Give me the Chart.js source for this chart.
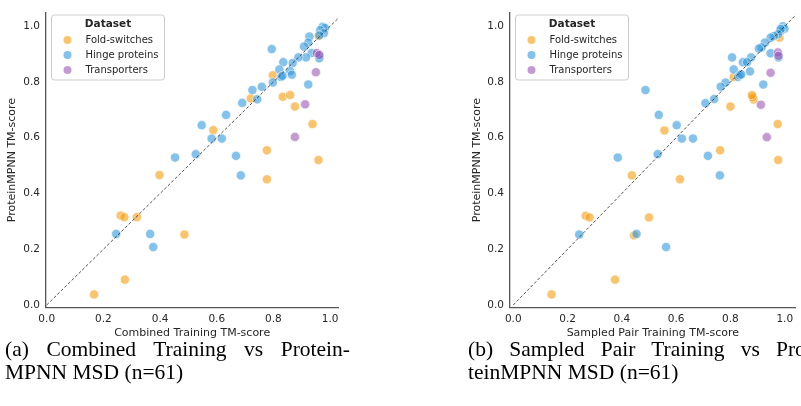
<!DOCTYPE html>
<html>
<head>
<meta charset="utf-8">
<script src="https://cdn.jsdelivr.net/npm/chart.js@4.4.1/dist/chart.umd.min.js"></script>
<style>
  html, body { margin: 0; padding: 0; background: #fff; overflow: hidden; }
  body { width: 801px; height: 406px; position: relative; }
  canvas { position: absolute; top: 0; }
  #chartA { left: 0; }
  #chartB { left: 465px; }
  .cap { position: absolute; width: 345px; font-family: "Liberation Serif", "Times New Roman", serif;
         font-size: 21.5px; line-height: 23px; color: #000; white-space: nowrap; }
  .cap .l1 { text-align: justify; text-align-last: justify; white-space: normal; }
</style>
</head>
<body>
<canvas id="chartA" width="400" height="340"></canvas>
<canvas id="chartB" width="336" height="340"></canvas>
<div class="cap" style="left:5px; top:338px;"><div class="l1">(a) Combined Training vs Protein-</div><div>MPNN MSD (n=61)</div></div>
<div class="cap" style="left:468px; top:338px;"><div class="l1">(b) Sampled Pair Training vs Pro-</div><div>teinMPNN MSD (n=61)</div></div>
<script>
const tickValues = [0, 0.2, 0.4, 0.6, 0.8, 1.0];
const diagonal = [0, 1.1];

// (a) Combined Training vs ProteinMPNN MSD  — [x, y]
const foldA = [[0.959,0.965],[0.798,0.824],[0.72,0.741],[0.833,0.747],[0.859,0.753],[0.876,0.712],
  [0.938,0.649],[0.588,0.627],[0.777,0.555],[0.959,0.52],[0.398,0.466],[0.777,0.451],[0.261,0.321],
  [0.274,0.315],[0.318,0.315],[0.486,0.253],[0.276,0.091],[0.167,0.038]];
const hingeA = [[0.974,0.998],[0.982,0.994],[0.965,0.986],[0.978,0.975],[0.962,0.967],[0.927,0.963],
  [0.923,0.941],[0.908,0.927],[0.794,0.918],[0.935,0.904],[0.915,0.888],[0.888,0.888],[0.962,0.894],
  [0.962,0.885],[0.868,0.868],[0.835,0.871],[0.821,0.845],[0.859,0.839],[0.865,0.826],[0.827,0.818],
  [0.832,0.822],[0.798,0.798],[0.923,0.791],[0.759,0.783],[0.726,0.771],[0.743,0.738],[0.69,0.725],
  [0.633,0.682],[0.547,0.645],[0.582,0.597],[0.618,0.597],[0.526,0.541],[0.453,0.529],[0.668,0.535],
  [0.685,0.465],[0.245,0.255],[0.365,0.255],[0.376,0.208]];
const transA = [[0.953,0.904],[0.962,0.897],[0.95,0.835],[0.912,0.72],[0.876,0.603]];

// (b) Sampled Pair Training vs ProteinMPNN MSD — [x, y]
const foldB = [[0.981,0.959],[0.812,0.818],[0.885,0.737],[0.882,0.745],[0.879,0.753],[0.80,0.712],
  [0.974,0.649],[0.557,0.626],[0.762,0.555],[0.976,0.52],[0.437,0.465],[0.614,0.451],[0.267,0.32],
  [0.281,0.314],[0.5,0.314],[0.445,0.25],[0.375,0.091],[0.141,0.038]];
const hingeB = [[0.993,1.0],[0.999,0.991],[0.984,0.982],[0.985,0.99],[0.975,0.971],[0.96,0.965],
  [0.948,0.959],[0.927,0.941],[0.915,0.924],[0.905,0.92],[0.806,0.888],[0.948,0.903],[0.977,0.888],
  [0.876,0.888],[0.846,0.871],[0.861,0.871],[0.812,0.845],[0.872,0.838],[0.828,0.818],[0.834,0.824],
  [0.84,0.827],[0.921,0.791],[0.782,0.798],[0.764,0.783],[0.74,0.739],[0.708,0.724],[0.487,0.771],
  [0.536,0.682],[0.602,0.645],[0.621,0.597],[0.662,0.597],[0.532,0.541],[0.385,0.529],[0.717,0.535],
  [0.761,0.465],[0.243,0.253],[0.454,0.255],[0.563,0.208]];
const transB = [[0.975,0.906],[0.977,0.894],[0.948,0.833],[0.912,0.718],[0.934,0.602]];

const colors = {
  fold: 'rgba(243,156,18,0.6)',
  hinge: 'rgba(52,152,219,0.6)',
  trans: 'rgba(155,89,182,0.6)'
};
const textColor = '#262626';
const font = 'DejaVu Sans';

const toPts = arr => arr.map(p => ({x: p[0], y: p[1]}));

// legend box drawn inside the axes, like the seaborn one
const innerLegend = {
  id: 'innerLegend',
  afterDatasetsDraw(chart) {
    const ctx = chart.ctx;
    const a = chart.chartArea;
    const x0 = a.left + 5.5, y0 = 15, w = 113, h = 65;
    ctx.save();
    ctx.beginPath();
    ctx.roundRect(x0, y0, w, h, 3);
    ctx.fillStyle = 'rgba(255,255,255,0.85)';
    ctx.fill();
    ctx.strokeStyle = '#cccccc';
    ctx.lineWidth = 1;
    ctx.stroke();
    ctx.fillStyle = textColor;
    ctx.textBaseline = 'middle';
    ctx.textAlign = 'center';
    ctx.font = 'bold 10.5px "' + font + '"';
    ctx.fillText('Dataset', x0 + w / 2, y0 + 9.5);
    ctx.textAlign = 'left';
    ctx.font = '10px "' + font + '"';
    const items = chart.data.datasets.filter(d => d.inLegend);
    items.forEach((d, i) => {
      const cy = y0 + 25 + i * 15;
      ctx.beginPath();
      ctx.arc(x0 + 16, cy, 4, 0, Math.PI * 2);
      ctx.fillStyle = d.backgroundColor;
      ctx.fill();
      ctx.fillStyle = textColor;
      ctx.fillText(d.label, x0 + 34, cy);
    });
    ctx.restore();
  }
};

function makeChart(id, fold, hinge, trans, xTitle, xMin, xMax, yWidth, padRight) {
  const pointStyle = {
    pointRadius: 4.6,
    borderColor: 'rgba(255,255,255,0.7)',
    borderWidth: 0.8
  };
  return new Chart(document.getElementById(id), {
    type: 'scatter',
    data: {
      datasets: [
        { label: 'Fold-switches', inLegend: true, data: toPts(fold), backgroundColor: colors.fold, order: 3, ...pointStyle },
        { label: 'Hinge proteins', inLegend: true, data: toPts(hinge), backgroundColor: colors.hinge, order: 2, ...pointStyle },
        { label: 'Transporters', inLegend: true, data: toPts(trans), backgroundColor: colors.trans, order: 1, ...pointStyle },
        { type: 'line', label: 'y = x', data: diagonal.map(v => ({x: v, y: v})), borderColor: 'rgba(40,40,40,0.8)',
          borderWidth: 1, borderDash: [3, 2], pointRadius: 0, fill: false, order: 0 }
      ]
    },
    options: {
      responsive: false,
      animation: false,
      events: [],
      layout: { padding: { left: 0, top: 7.5, right: padRight, bottom: 0 } },
      plugins: { legend: { display: false }, tooltip: { enabled: false } },
      scales: {
        x: {
          type: 'linear', min: xMin, max: xMax,
          grid: { display: false, drawTicks: false },
          border: { display: true, color: '#555', width: 1.3 },
          afterBuildTicks: s => { s.ticks = tickValues.map(v => ({value: v})); },
          afterFit: s => { s.height = 32.2; },
          ticks: { padding: 5, color: textColor, font: { family: font, size: 10.5 }, callback: v => v.toFixed(1), maxRotation: 0 },
          title: { display: true, text: xTitle, color: textColor, font: { family: font, size: 11 }, padding: { top: 0, bottom: 0.5 } }
        },
        y: {
          type: 'linear', min: -0.01, max: 1.05,
          grid: { display: false, drawTicks: false },
          border: { display: true, color: '#555', width: 1.3 },
          afterBuildTicks: s => { s.ticks = tickValues.map(v => ({value: v})); },
          afterFit: s => { s.width = yWidth; },
          ticks: { padding: 6, color: textColor, font: { family: font, size: 10.5 }, callback: v => v.toFixed(1) },
          title: { display: true, text: 'ProteinMPNN TM-score', color: textColor, font: { family: font, size: 11 }, padding: { top: 6, bottom: 0 } }
        }
      }
    },
    plugins: [innerLegend]
  });
}

makeChart('chartA', foldA, hingeA, transA, 'Combined Training TM-score', -0.0025, 1.029, 46, 61.7);
makeChart('chartB', foldB, hingeB, transB, 'Sampled Pair Training TM-score', -0.012, 1.04, 45, 0);
</script>
</body>
</html>
